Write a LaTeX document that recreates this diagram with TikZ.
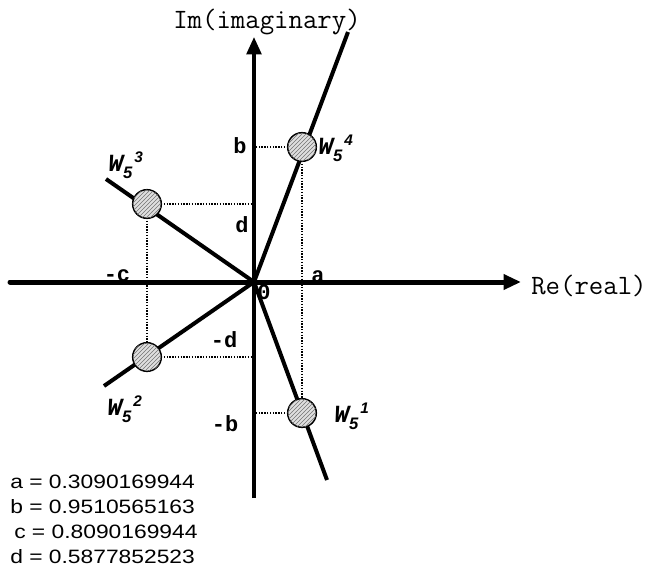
\documentclass[tikz,border=0pt]{standalone}
\usepackage{fontspec}
\setmainfont{Liberation Serif}
\newfontfamily\monof{Liberation Mono}
\newfontfamily\sansf{Liberation Sans}
\usetikzlibrary{arrows.meta,patterns}
\newcommand\wfive[1]{{\monof\bfseries\itshape W}\raisebox{-5pt}{\sansf\bfseries\itshape\fontsize{12.5}{12.5}\selectfont 5}\hspace{1.5pt}\raisebox{7pt}{\sansf\bfseries\itshape\fontsize{11.5}{11.5}\selectfont #1}}
\begin{document}
\begin{tikzpicture}[x=0.75pt,y=-0.75pt,
  axisx/.style={line width=3.75pt, line cap=round, -{Triangle[length=13pt,width=11pt]}},
  axisy/.style={line width=2.6pt, -{Triangle[length=13pt,width=11pt]}},
  ray/.style={line width=3pt},
  proj/.style={line width=1.1pt, densely dotted},
  root/.style={circle, draw, line width=1.1pt, minimum size=21.5pt, inner sep=0pt,
    fill=gray!25, postaction={pattern=north east lines, pattern color=gray!90!black}},
  lab/.style={font=\monof\bfseries\fontsize{16.5}{18}\selectfont, inner sep=0pt},
  axlab/.style={font=\ttfamily\fontsize{21}{23}\selectfont, inner sep=0pt},
  wlab/.style={anchor=west, inner sep=0pt, font=\fontsize{18.5}{20}\selectfont},
  val/.style={anchor=west, inner sep=0pt, font=\sansf\fontsize{14.5}{16}\selectfont}
]
\useasboundingbox (0,0) rectangle (650,568);
% reference points
\coordinate (O) at (254,282);
\coordinate (xl) at (10,282);
\coordinate (xr) at (521,282);
\coordinate (yb) at (254,498);
\coordinate (yt) at (254,37);
\coordinate (r4) at (348,32);
\coordinate (r1) at (327,480);
\coordinate (r3) at (106,179);
\coordinate (r2) at (104,386);
% axes
\draw[axisx] (xl) -- (xr);
\draw[axisy] (yb) -- (yt);
% rays
\draw[ray] (O) -- (r4);
\draw[ray] (O) -- (r1);
\draw[ray] (O) -- (r3);
\draw[ray] (O) -- (r2);
% root positions
\coordinate (p4) at (302,147);
\coordinate (p3) at (147,204);
\coordinate (p2) at (147,357);
\coordinate (p1) at (302,413);
% projections
\draw[proj] (p4) -- (p4 -| O);
\draw[proj] (p3) -- (p3 -| O);
\draw[proj] (p2) -- (p2 -| O);
\draw[proj] (p1) -- (p1 -| O);
\draw[proj] (p4) -- (p1);
\draw[proj] (p3) -- (p2);
% roots
\node[root] (W4) at (p4) {};
\node[root] (W3) at (p3) {};
\node[root] (W2) at (p2) {};
\node[root] (W1) at (p1) {};
% labels
\node[lab] (lb) at (240,146) {b};
\node[lab] (ld) at (242,225) {d};
\node[lab] (la) at (318,277) {a};
\node[lab] (lc) at (117,276) {-c};
\node[lab] (l0) at (264,292) {0};
\node[lab] (lmd) at (224,340) {-d};
\node[lab] (lmb) at (225,424) {-b};
\node[axlab] (im) at (267,22) {Im(imaginary)};
\node[axlab, anchor=west] (re) at (531,286) {Re(real)};
\node[wlab] (w4) at (318,148) {\wfive{4}};
\node[wlab] (w3) at (108,165) {\wfive{3}};
\node[wlab] (w2) at (107,409) {\wfive{2}};
\node[wlab] (w1) at (334,416) {\wfive{1}};
% values
\node[val] (va) at (10,482) {\scalebox{1.18}[1]{a = 0.3090169944}};
\node[val] (vb) at (10,507) {\scalebox{1.18}[1]{b = 0.9510565163}};
\node[val] (vc) at (14,532) {\scalebox{1.18}[1]{c = 0.8090169944}};
\node[val] (vd) at (10,557) {\scalebox{1.18}[1]{d = 0.5877852523}};
\end{tikzpicture}
\end{document}
